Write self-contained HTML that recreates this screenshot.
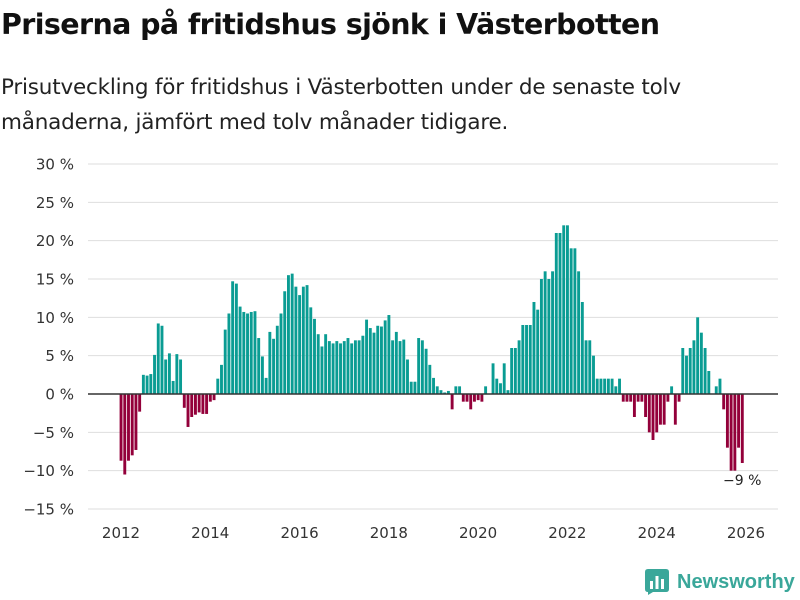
<!DOCTYPE html>
<html><head><meta charset="utf-8">
<style>
body{margin:0;background:#fff;width:800px;height:600px;overflow:hidden;font-family:"DejaVu Sans","Liberation Sans",sans-serif;}
h1{position:absolute;left:1px;top:8px;margin:0;font-size:28.5px;font-weight:bold;color:#111;letter-spacing:-0.6px;white-space:nowrap}
.sub{position:absolute;left:1px;top:70px;margin:0;font-size:21.5px;line-height:35px;color:#222;letter-spacing:-0.2px;white-space:nowrap}
</style></head><body>
<h1>Priserna på fritidshus sjönk i Västerbotten</h1>
<p class="sub">Prisutveckling för fritidshus i Västerbotten under de senaste tolv<br>månaderna, jämfört med tolv månader tidigare.</p>
<svg id="chart" width="800" height="600" style="position:absolute;left:0;top:0" xmlns="http://www.w3.org/2000/svg"></svg>
<script>
const startYear = 2012;
const values = [
-8.7,-10.5,-8.7,-8,-7.3,-2.3,2.5,2.4,2.6,5.1,9.2,8.9,
4.5,5.3,1.7,5.2,4.5,-1.8,-4.3,-3,-2.7,-2.4,-2.6,-2.6,
-1,-0.8,2,3.8,8.4,10.5,14.7,14.4,11.4,10.7,10.5,10.7,
10.8,7.3,4.9,2.1,8.1,7.2,8.9,10.5,13.4,15.5,15.7,14,
12.9,14,14.2,11.3,9.8,7.8,6.2,7.8,6.9,6.6,6.9,6.6,
6.9,7.3,6.6,7,7,7.6,9.7,8.6,8,8.9,8.8,9.6,
10.3,7,8.1,6.9,7.1,4.5,1.6,1.6,7.3,7,5.9,3.8,
2.1,1,0.5,0.2,0.4,-2,1,1,-1,-1,-2,-1,
-0.8,-1,1,0,4,2,1.4,4,0.5,6,6,7,
9,9,9,12,11,15,16,15,16,21,21,22,
22,19,19,16,12,7,7,5,2,2,2,2,
2,1,2,-1,-1,-1,-3,-1,-1,-3,-5,-6,
-5,-4,-4,-1,1,-4,-1,6,5,6,7,10,
8,6,3,0,1,2,-2,-7,-10,-10,-7,-9
];
const yTicks = [30,25,20,15,10,5,0,-5,-10,-15];
const xTicks = [2012,2014,2016,2018,2020,2022,2024,2026];
const lastLabel = "−9 %";

const svg = document.getElementById('chart');
const NS = 'http://www.w3.org/2000/svg';
const y = v => 394 - v * 7.667;
const x = i => 121 + i * 3.72;
const xYear = yr => x((yr - startYear) * 12);
function mk(tag, attrs){const e=document.createElementNS(NS,tag);for(const k in attrs)e.setAttribute(k,attrs[k]);svg.appendChild(e);return e;}
yTicks.forEach(t=>{
  const g = mk('line',{x1:88,x2:778,y1:y(t),y2:y(t),stroke:'#dedede','stroke-width':1});
  
  
  const l = mk('text',{x:74,y:y(t)+5.5,'text-anchor':'end','font-size':15,fill:'#333'});
  l.textContent = String(t).replace('-','−') + ' %';
  
  
});
values.forEach((v,i)=>{
  const top = Math.min(y(v), y(0)), h = Math.abs(y(v)-y(0));
  const r = mk('rect',{x:x(i)-1.4,y:top,width:2.9,height:h,fill:v>=0?'#0a9c93':'#93003a'});
  
  
});
const z = mk('line',{x1:88,x2:778,y1:y(0),y2:y(0),stroke:'#333','stroke-width':1.5});


xTicks.forEach(yr=>{
  const t = mk('text',{x:xYear(yr),y:538,'text-anchor':'middle','font-size':15,fill:'#333'});
  t.textContent = yr;
  
  
});
const li = values.length-1;
const a = mk('text',{x:x(li),y:y(values[li])+22,'text-anchor':'middle','font-size':14,fill:'#222'});
a.textContent = lastLabel;


</script>
<div style="position:absolute;left:645px;top:569px;display:flex;align-items:center">
<svg width="24" height="26" viewBox="0 0 24 26"><path d="M0 3 Q0 0 3 0 H21 Q24 0 24 3 V20 Q24 23 21 23 H8 L3 26 V23 Q0 23 0 20Z" fill="#3aa79a"/><rect x="5" y="12" width="3" height="8" fill="#fff"/><rect x="10.5" y="7" width="3" height="13" fill="#fff"/><rect x="16" y="10" width="3" height="10" fill="#fff"/></svg>
<span style="margin-left:8px;font-weight:bold;color:#3aa79a;font-family:'Liberation Sans',sans-serif;font-size:20px">Newsworthy</span></div>
</body></html>
